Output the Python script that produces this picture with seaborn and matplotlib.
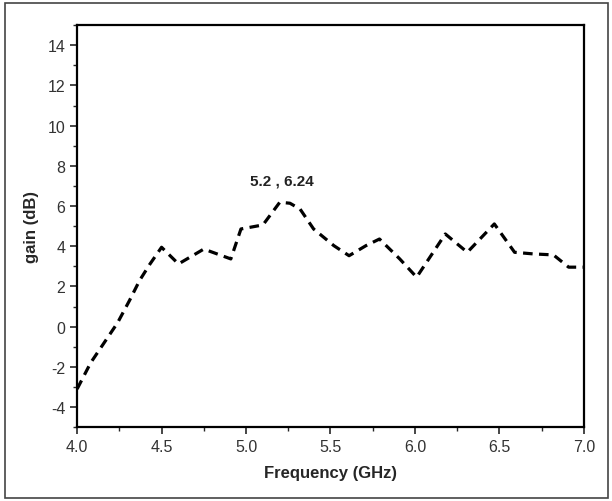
import numpy as np
import pandas as pd
import matplotlib
matplotlib.use("Agg")
import matplotlib.pyplot as plt
from matplotlib.patches import Rectangle
from matplotlib.ticker import MultipleLocator
import seaborn as sns

# gain vs frequency
freq = [4.00, 4.08, 4.16, 4.24, 4.31, 4.37, 4.43, 4.50, 4.60, 4.75, 4.91, 4.97,
        5.10, 5.20, 5.26, 5.32, 5.40, 5.52, 5.61, 5.71, 5.79, 5.91, 6.01, 6.18,
        6.31, 6.47, 6.59, 6.70, 6.82, 6.91, 7.00]
gain = [-3.1, -1.8, -0.8, 0.2, 1.3, 2.3, 3.1, 3.95, 3.12, 3.86, 3.37, 4.86,
        5.06, 6.19, 6.14, 5.85, 4.86, 4.03, 3.53, 4.03, 4.36, 3.37, 2.46, 4.61,
        3.70, 5.11, 3.70, 3.62, 3.57, 2.96, 2.96]
peak_label = "5.2 , 6.24"

df = pd.DataFrame({"Frequency": freq, "gain": gain})

sns.set_style("ticks")
plt.rcParams['font.family'] = ['Liberation Sans', 'DejaVu Sans']
plt.rcParams['axes.unicode_minus'] = False

fig = plt.figure(figsize=(6.12, 5.02), dpi=100)
ax = fig.add_axes([0.126, 0.147, 0.828, 0.801])

sns.lineplot(data=df, x="Frequency", y="gain", ax=ax, color="black",
             linewidth=2.3, linestyle=(0, (3, 2)))

ax.set_xlim(4.0, 7.0)
ax.set_ylim(-5, 15)
ax.xaxis.set_major_locator(MultipleLocator(0.5))
ax.xaxis.set_minor_locator(MultipleLocator(0.25))
ax.yaxis.set_major_locator(MultipleLocator(2))
ax.yaxis.set_minor_locator(MultipleLocator(1))
ax.set_yticks(range(-4, 15, 2))
ax.xaxis.set_major_formatter(matplotlib.ticker.FormatStrFormatter('%.1f'))

ax.tick_params(which='major', direction='out', length=5, width=1.2,
               labelsize=11.5, labelcolor='#333333')
ax.tick_params(which='minor', direction='out', length=3, width=1.0)
ax.tick_params(top=False, right=False)
for s in ax.spines.values():
    s.set_linewidth(1.6)
    s.set_color('black')

ax.set_xlabel("Frequency (GHz)", fontsize=12, fontweight='bold', labelpad=8)
ax.set_ylabel("gain (dB)", fontsize=12, fontweight='bold', labelpad=6)

ax.text(5.215, 7.25, peak_label, fontsize=11, fontweight='bold',
        ha='center', va='center', color='#222222')

# thin frame around the whole picture
fig.patches.append(Rectangle((0.008, 0.006), 0.985, 0.986, transform=fig.transFigure,
                             fill=False, edgecolor='#444444', linewidth=1.2))

fig.savefig("out.png", dpi=100)
